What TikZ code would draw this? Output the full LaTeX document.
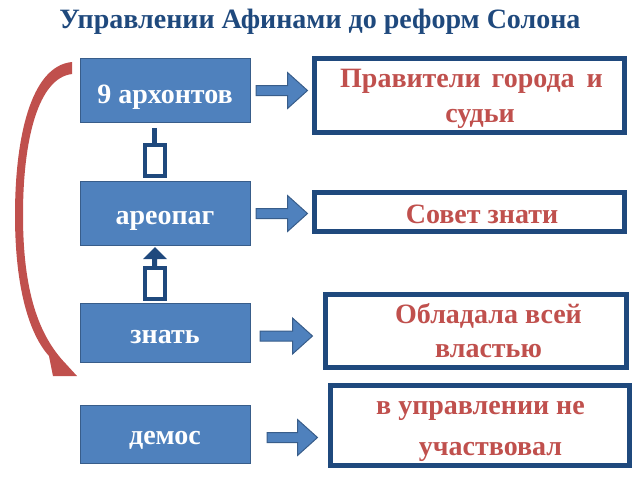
\documentclass[tikz,border=0pt]{standalone}
\usepackage{fontspec}
\setmainfont{Liberation Serif}
\usetikzlibrary{calc}
\definecolor{boxblue}{HTML}{4F81BD}
\definecolor{boxedge}{HTML}{385D8A}
\definecolor{darkblue}{HTML}{1F497D}
\definecolor{txtred}{HTML}{C0504D}
\tikzset{
  leftbox/.style={draw=boxedge, line width=1pt, fill=boxblue, inner sep=0pt},
  ltext/.style={text=white, font=\fontsize{28}{32}\selectfont\bfseries, anchor=base, inner sep=0pt},
  rightbox/.style={draw=darkblue, line width=5pt, fill=white, inner sep=0pt},
  rtext/.style={text=txtred, font=\fontsize{28}{32}\selectfont\bfseries, anchor=base, inner sep=0pt},
  barr/.style={fill=boxblue, draw=boxedge, line width=1pt, line join=miter},
  vconn/.style={draw=darkblue, line width=4pt, fill=white},
  vfill/.style={fill=darkblue},
}
\newcommand{\blockarrow}[2]{%
  \draw[barr] let \p1=(#1), \p2=(#2) in
    (\x1,\y1+5pt) -- (\x2-20pt,\y1+5pt) -- (\x2-20pt,\y1+18pt) -- (\x2,\y1)
    -- (\x2-20pt,\y1-18pt) -- (\x2-20pt,\y1-5pt) -- (\x1,\y1-5pt) -- cycle;}
\begin{document}
\begin{tikzpicture}[x=1pt,y=-1pt]
\useasboundingbox (0,0) rectangle (640,480);
% title
\node[text=darkblue, font=\fontsize{28}{32}\selectfont\bfseries, anchor=base, inner sep=0pt] (title) at (320,28) {Управлении Афинами до реформ Солона};
% left boxes
\node[leftbox, minimum width=170pt, minimum height=64pt] (b1) at (165.5,90.5) {};
\node[leftbox, minimum width=170pt, minimum height=64pt] (b2) at (165.5,213.5) {};
\node[leftbox, minimum width=170pt, minimum height=59pt] (b3) at (165.5,333) {};
\node[leftbox, minimum width=170pt, minimum height=58pt] (b4) at (165.5,434.5) {};
\node[ltext] (l1) at (165,103) {9 архонтов};
\node[ltext] (l2) at (165,224) {ареопаг};
\node[ltext] (l3) at (165,343) {знать};
\node[ltext] (l4) at (165,444) {демос};
% right boxes
\node[rightbox, minimum width=310pt, minimum height=74pt] (rA) at (469.5,95.5) {};
\node[rightbox, minimum width=310pt, minimum height=39pt] (rB) at (469.5,212) {};
\node[rightbox, minimum width=301pt, minimum height=73pt] (rC) at (476,331) {};
\node[rightbox, minimum width=299pt, minimum height=80pt] (rD) at (480,425.5) {};
% right texts
\node[rtext] (tA1) at (471.5,87) {Правители\hspace{4pt} города\hspace{5pt} и};
\node[rtext] (tA2) at (480,122) {судьи};
\node[rtext] (tB) at (482,223) {Совет знати};
\node[rtext] (tC1) at (488.5,323) {Обладала всей};
\node[rtext] (tC2) at (488.5,357) {властью};
\node[rtext] (tD1) at (480.5,414) {в управлении не};
\node[rtext] (tD2) at (490.5,455) {участвовал};
% block arrows
\blockarrow{$(b1.east)+(5,0)$}{$(rA.west)+(-4.5,0)$}
\blockarrow{$(b2.east)+(5,0)$}{$(rB.west)+(-4.5,0)$}
\blockarrow{$(b3.east)+(9,3)$}{$(rC.west)+(-10.5,3)$}
\blockarrow{$(b4.east)+(16,3)$}{$(rD.west)+(-10.5,3)$}
% vertical connectors
\fill[vfill] (152,128) rectangle (157,145);
\draw[vconn] (145,145) rectangle (165,176);
\fill[vfill] (143,259) -- (155,247) -- (167,259) -- (157,259) -- (157,268) -- (152,268) -- (152,259) -- cycle;
\draw[vconn] (145,268) rectangle (165,299);
% red curved arrow
\fill[txtred] (72,62) .. controls (30,66) and (15,140) .. (15,215)
  .. controls (15,290) and (30,335) .. (49,356)
  -- (53,376) -- (77,376) -- (66,364)
  .. controls (38,335) and (23,290) .. (23,215)
  .. controls (23,140) and (38,78) .. (72,74) -- cycle;
\end{tikzpicture}
\end{document}
